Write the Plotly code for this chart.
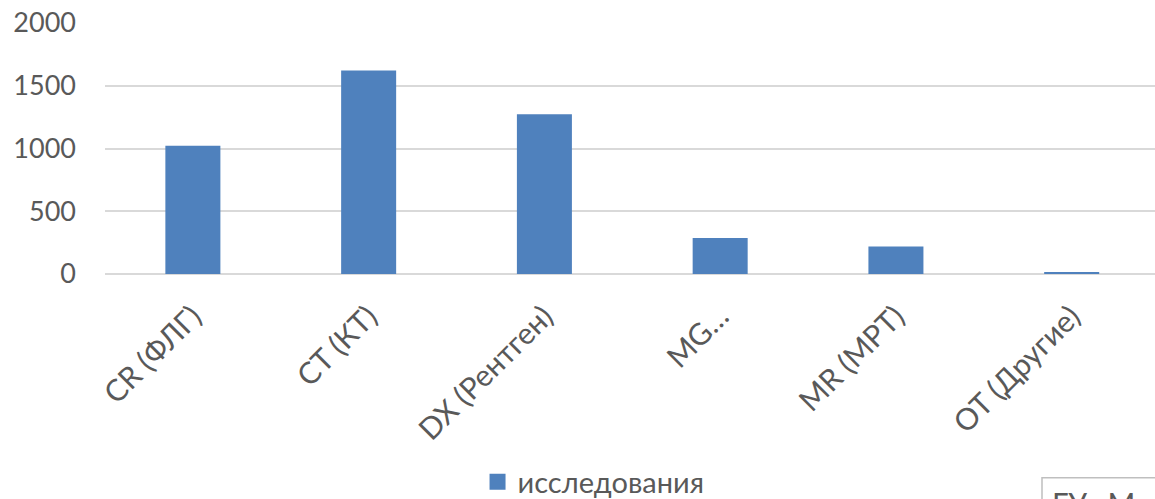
import plotly.graph_objects as go

categories = ["CR (ФЛГ)", "CT (КТ)", "DX (Рентген)", "MG…", "MR (МРТ)", "OT (Другие)"]
values = [1022, 1622, 1272, 286, 220, 16]
series_name = "исследования"
y_ticks = [0, 500, 1000, 1500, 2000]

BAR_COLOR = "#4f81bd"
TEXT_COLOR = "#595959"
GRID_COLOR = "#d9d9d9"
FONT = "Lato"

fig = go.Figure()
fig.add_trace(go.Bar(
    x=categories, y=values, marker=dict(color=BAR_COLOR, line=dict(width=0)),
    showlegend=False, name=series_name,
))
fig.add_trace(go.Scatter(
    x=[None], y=[None], mode="markers", name=series_name,
    marker=dict(symbol="square", size=17, color=BAR_COLOR),
))

fig.update_layout(
    width=1155, height=499,
    margin=dict(l=105, r=0, t=23, b=225, autoexpand=False),
    plot_bgcolor="white", paper_bgcolor="white",
    bargap=0.687,
    font=dict(family=FONT, size=27, color=TEXT_COLOR),
    showlegend=True,
    legend=dict(orientation="h", x=0.3548, xanchor="left", y=-(482 - 274) / 251, yanchor="middle",
                font=dict(size=29, color=TEXT_COLOR), bgcolor="rgba(0,0,0,0)"),
    xaxis=dict(
        range=[-0.5, 5.474], tickangle=-45, showgrid=False, showline=False, ticks="outside",
        ticklen=12, tickcolor="rgba(0,0,0,0)", automargin=False,
        tickfont=dict(size=30, color=TEXT_COLOR), zeroline=False,
    ),
    yaxis=dict(
        range=[0, 2000], tickvals=y_ticks, showgrid=True, gridcolor=GRID_COLOR, gridwidth=2,
        zeroline=True, zerolinecolor=GRID_COLOR, zerolinewidth=2, showline=False, automargin=False,
        tickfont=dict(size=27, color=TEXT_COLOR), ticks="", ticklabelstandoff=28,
    ),
    shapes=[dict(type="rect", xref="paper", yref="paper",
                 x0=(1042 - 105) / 1050, x1=1.05, y0=-1.2, y1=-(477.7 - 274) / 251,
                 line=dict(color="#bfbfbf", width=1.5), fillcolor="white", layer="above")],
    annotations=[dict(text="ГУ «Му", xref="paper", yref="paper",
                      x=(1050 - 105) / 1050, xanchor="left",
                      y=-(483 - 274) / 251, yanchor="top", showarrow=False,
                      font=dict(size=30, color=TEXT_COLOR, family=FONT))],
)

fig.write_html("out.html")
